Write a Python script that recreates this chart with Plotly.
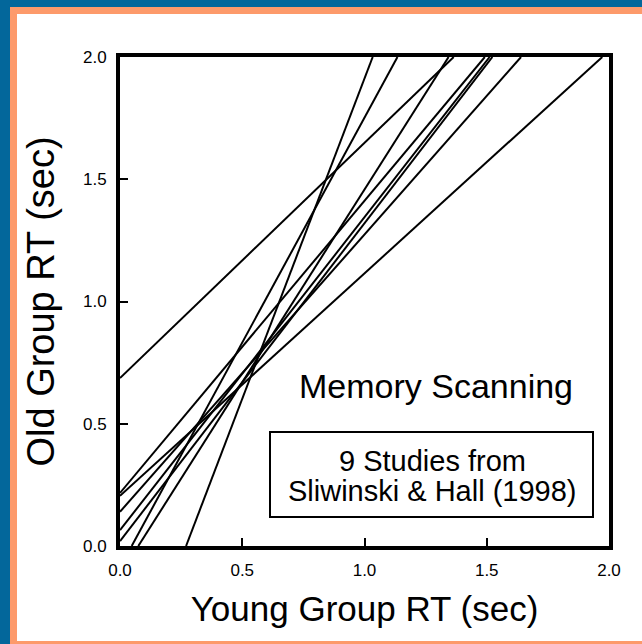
import plotly.graph_objects as go

# Regression lines (old RT = intercept + slope * young RT), one per study
study_intercepts = [-0.708, -0.088, 0.687, -0.118, 0.217, 0.205, 0.140, 0.065, 0.020]
study_slopes = [2.62, 1.84, 0.962, 1.576, 1.195, 0.91, 1.134, 1.28, 1.30]

tick_values = [0.0, 0.5, 1.0, 1.5, 2.0]
tick_labels = ["0.0", "0.5", "1.0", "1.5", "2.0"]

AX_MIN, AX_MAX = 0.0, 2.0

W, H = 642, 644
ML, MR, MT, MB = 120, 33, 57, 98
PW, PH = W - ML - MR, H - MT - MB


def px_x(px):
    return (px - ML) / PW


def px_y(py):
    return (H - MB - py) / PH


def clip_segment(a, b):
    """Endpoints of y = a + b*x inside the square axis box."""
    pts = []
    for x in (AX_MIN, AX_MAX):
        y = a + b * x
        if AX_MIN <= y <= AX_MAX:
            pts.append((x, y))
    for y in (AX_MIN, AX_MAX):
        x = (y - a) / b
        if AX_MIN <= x <= AX_MAX:
            pts.append((x, y))
    pts = sorted(set(pts))
    return pts[0], pts[-1]


fig = go.Figure()
for a, b in zip(study_intercepts, study_slopes):
    (x0, y0), (x1, y1) = clip_segment(a, b)
    fig.add_trace(go.Scatter(
        x=[x0, x1], y=[y0, y1], mode="lines",
        line=dict(color="black", width=2), showlegend=False, hoverinfo="skip",
    ))

BLUE = "#03679b"
ORANGE = "#fd9a6b"

shapes = [
    # outer blue frame (top and left)
    dict(type="rect", xref="paper", yref="paper", x0=px_x(0), x1=px_x(W), y0=px_y(0), y1=px_y(7),
         fillcolor=BLUE, line_width=0, layer="below"),
    dict(type="rect", xref="paper", yref="paper", x0=px_x(0), x1=px_x(10), y0=px_y(0), y1=px_y(H),
         fillcolor=BLUE, line_width=0, layer="below"),
    # inner orange frame
    dict(type="rect", xref="paper", yref="paper", x0=px_x(10), x1=px_x(W), y0=px_y(7), y1=px_y(14),
         fillcolor=ORANGE, line_width=0, layer="below"),
    dict(type="rect", xref="paper", yref="paper", x0=px_x(10), x1=px_x(17), y0=px_y(7), y1=px_y(H),
         fillcolor=ORANGE, line_width=0, layer="below"),
    dict(type="rect", xref="paper", yref="paper", x0=px_x(10), x1=px_x(W), y0=px_y(641), y1=px_y(H),
         fillcolor=ORANGE, line_width=0, layer="below"),
    # source box
    dict(type="rect", xref="paper", yref="paper", x0=px_x(270), x1=px_x(593), y0=px_y(517), y1=px_y(432),
         line=dict(color="black", width=2), fillcolor="white"),
]

annotations = [
    dict(text="Memory Scanning", xref="paper", yref="paper", x=px_x(436), y=px_y(386),
         xanchor="center", yanchor="middle", showarrow=False, font=dict(size=34, color="black")),
    dict(text="9 Studies from", xref="paper", yref="paper", x=px_x(432), y=px_y(461),
         xanchor="center", yanchor="middle", showarrow=False, font=dict(size=29, color="black")),
    dict(text="Sliwinski & Hall (1998)", xref="paper", yref="paper", x=px_x(432), y=px_y(491),
         xanchor="center", yanchor="middle", showarrow=False, font=dict(size=29, color="black")),
]

axis_common = dict(
    range=[AX_MIN, AX_MAX], tickvals=tick_values, ticktext=tick_labels,
    ticks="inside", ticklen=8, tickwidth=2, tickcolor="black",
    showline=True, linewidth=4, linecolor="black", mirror=True,
    showgrid=False, zeroline=False, tickfont=dict(size=17, color="black"),
    ticklabelstandoff=6,
)

fig.update_layout(
    width=W, height=H,
    margin=dict(l=ML, r=MR, t=MT, b=MB, autoexpand=False),
    paper_bgcolor="white", plot_bgcolor="white",
    font=dict(family="Liberation Sans, Arial, sans-serif", color="black"),
    xaxis=dict(axis_common, title=dict(text="Young Group RT (sec)", font=dict(size=35), standoff=18)),
    yaxis=dict(axis_common, title=dict(text="Old Group RT (sec)", font=dict(size=38), standoff=18)),
    shapes=shapes, annotations=annotations,
)

fig.write_html("out.html")
